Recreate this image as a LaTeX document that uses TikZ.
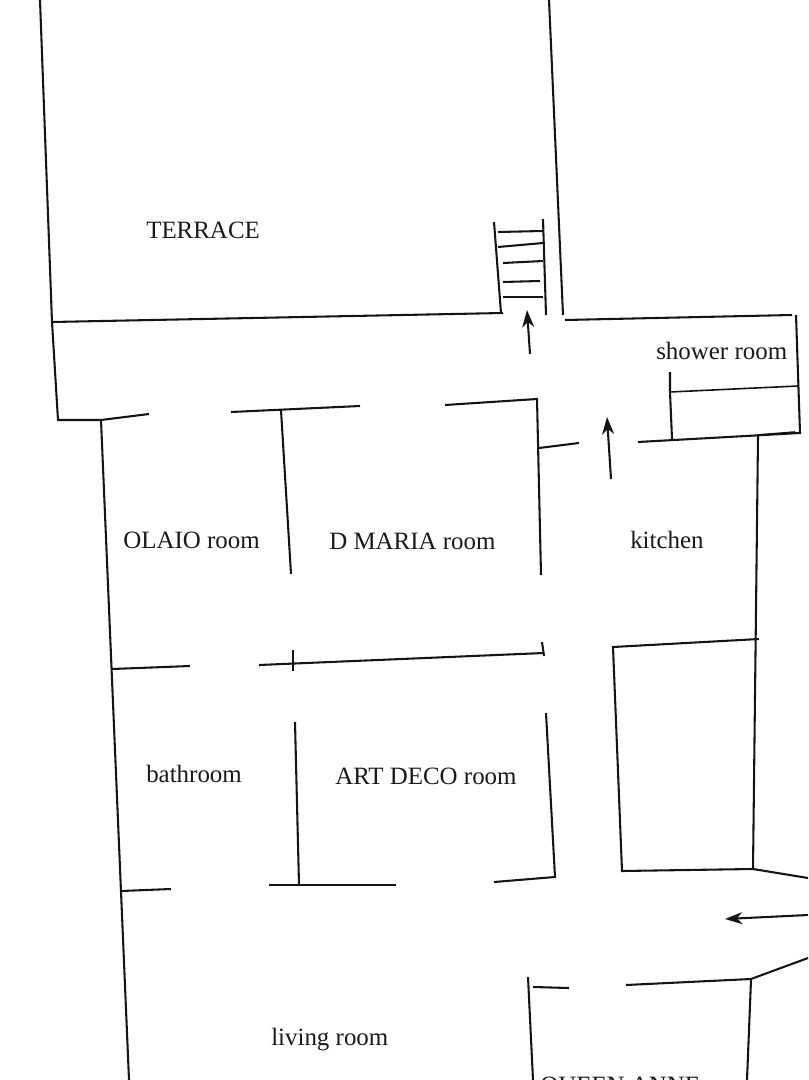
\documentclass[tikz,border=0pt]{standalone}
\usepackage{fontspec}
\setmainfont{Liberation Serif}
\usetikzlibrary{arrows.meta}
\tikzset{
  wall/.style={draw=black!92,line width=1.55pt,line join=miter},
  thin wall/.style={draw=black!92,line width=1.2pt},
  flow/.style={draw=black!92,line width=1.55pt,-{Stealth[length=13pt,width=9pt,inset=4pt]}},
  room/.style={font=\fontsize{18.7}{20}\selectfont,text=black!90,inner sep=0pt,anchor=base west}
}
\begin{document}
\begin{tikzpicture}[x=0.75pt,y=-0.75pt]
\useasboundingbox (0,0) rectangle (808,1080);
% terrace and corridor
\draw[wall] (40,0) -- (52,322) -- (58,420) -- (101,420) -- (149,414);
\draw[wall] (52,322) -- (503,313);
\draw[wall] (549,0) -- (563,315);
\draw[wall] (565,320) -- (792,315);
\draw[wall] (796,315) -- (800,433) -- (638,442);
% stairs
\draw[wall] (494,222) -- (501,313);
\draw[wall] (543,219) -- (546,315);
\draw[wall] (498,232) -- (543,231);
\draw[wall] (498,247) -- (543,243);
\draw[wall] (503,263) -- (543,261);
\draw[wall] (503,282) -- (540,281);
\draw[wall] (503,297) -- (543,297);
% shower room
\draw[wall] (670,372) -- (670,392) -- (672,439);
\draw[thin wall] (670,392) -- (798,386);
\draw[thin wall] (757,435) -- (795,432);
% left wall and upper rooms
\draw[wall] (101,420) -- (129,1080);
\draw[wall] (231,412) -- (360,406);
\draw[wall] (281,410) -- (291,574);
\draw[wall] (445,405) -- (537,399) -- (541,575);
\draw[wall] (539,448) -- (579,443);
\draw[wall] (758,436) -- (753,869);
% middle partition
\draw[wall] (112,669) -- (190,666);
\draw[wall] (259,665) -- (544,653);
\draw[wall] (293,650) -- (293,671);
\draw[wall] (542,642) -- (544,656);
% lower rooms
\draw[wall] (295,722) -- (299,885);
\draw[wall] (546,713) -- (555,877) -- (494,882);
\draw[wall] (269,885) -- (396,885);
\draw[wall] (121,891) -- (171,889);
% cabinet and entrance
\draw[wall] (759,639) -- (613,647) -- (622,871) -- (753,869) -- (808,878);
\draw[wall] (808,958) -- (751,979) -- (626,985);
\draw[wall] (751,980) -- (747,1080);
\draw[wall] (528,977) -- (533,1080);
\draw[wall] (533,987) -- (569,988);
% arrows
\coordinate (a1s) at (530,354); \coordinate (a1e) at (527,310);
\coordinate (a2s) at (611,479); \coordinate (a2e) at (607,417);
\coordinate (a3s) at (808,915); \coordinate (a3e) at (725,919);
\draw[flow] (a1s) -- (a1e);
\draw[flow] (a2s) -- (a2e);
\draw[flow] (a3s) -- (a3e);
% labels
\node[room] (terrace) at (146,239) {TERRACE};
\node[room] (shower) at (656,359) {shower room};
\node[room] (olaio) at (123,548) {OLAIO room};
\node[room] (dmaria) at (329,549) {D MARIA room};
\node[room] (kitchen) at (630,548) {kitchen};
\node[room] (bathroom) at (146,782) {bathroom};
\node[room] (artdeco) at (335,784) {ART DECO room};
\node[room] (living) at (271,1045) {living room};
\node[room] (queen) at (540,1093) {QUEEN ANNE};
\end{tikzpicture}
\end{document}
